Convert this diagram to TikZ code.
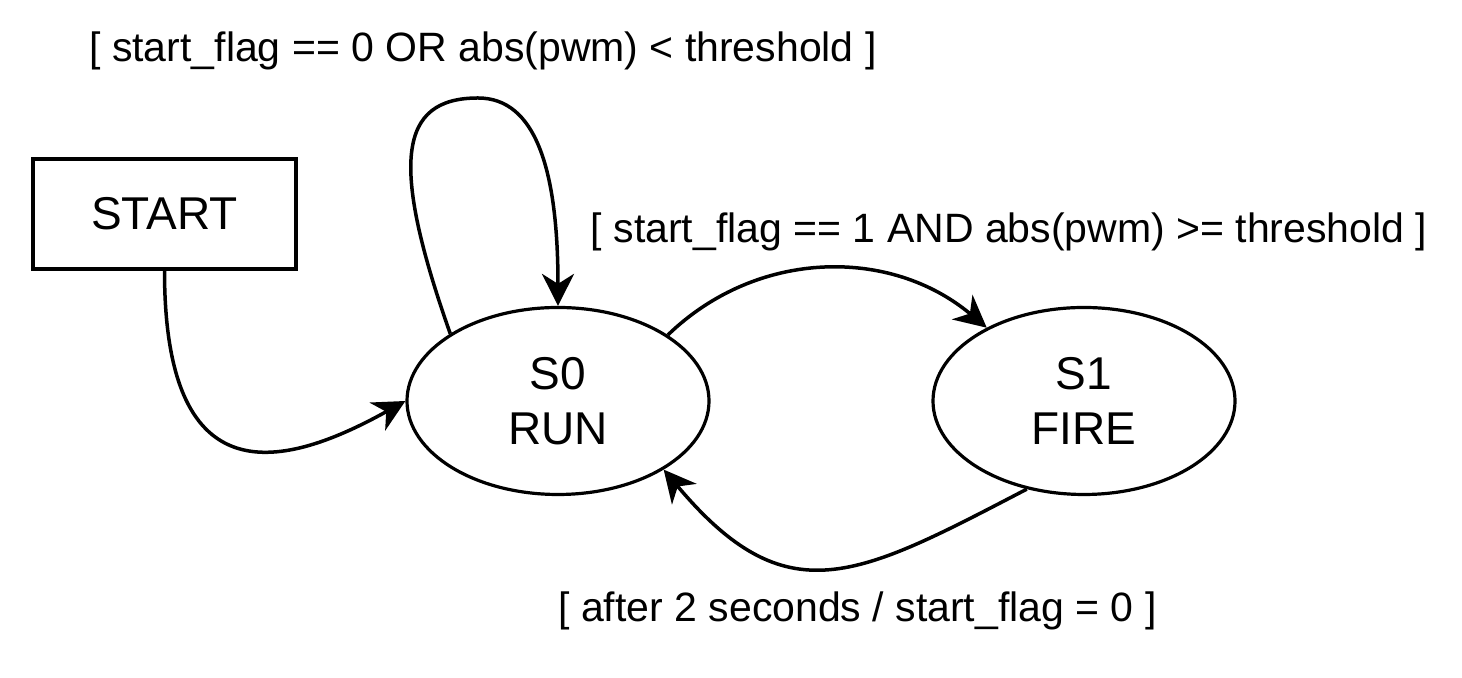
\documentclass[tikz,border=0pt]{standalone}
\usepackage{fontspec}
\setmainfont{Liberation Sans}
\usetikzlibrary{shapes.geometric, arrows.meta, positioning}

\begin{document}
\begin{tikzpicture}[x=0.5pt, y=0.5pt,
    boxnode/.style={draw, rectangle, line width=1.6pt, minimum width=131.5pt, minimum height=55pt, inner sep=0pt, font=\fontsize{23}{27.5}\selectfont},
    statenode/.style={draw, ellipse, line width=1.6pt, minimum width=151pt, minimum height=93.5pt, inner sep=0pt, align=center, font=\fontsize{23}{27.5}\selectfont},
    guard/.style={anchor=base, inner sep=0pt, font=\fontsize{20.5}{24}\selectfont},
    trans/.style={-{Stealth[length=16pt, width=16pt, inset=5pt]}, line width=1.75pt}]
    \useasboundingbox (0,0) rectangle (1462,678);

    % States
    \node[boxnode] (start) at (164.5,464) {START};
    \node[statenode] (s0) at (558,277) {S0\\RUN};
    \node[statenode] (s1) at (1084,277) {S1\\FIRE};
    \coordinate (looptop) at (478,580);

    % Transitions
    \draw[trans] (start.south) .. controls +(0,-220) and +(-131,-73) .. (s0.west);
    \draw[trans] (s0.148) .. controls +(-60,170) and +(-80,0) .. (looptop)
        .. controls +(57,0) and +(0,138) .. (s0.north);
    \draw[trans] (s0.31) to[out=44, in=140] (s1.143);
    \draw[trans] (s1.237) to[out=207.5, in=-50, looseness=1.35] (s0.327);

    % Guards
    \node[guard] (loopguard) at (483,616) {[ start\_flag == 0 OR abs(pwm) < threshold ]};
    \node[guard] (fireguard) at (1009,435) {[ start\_flag == 1 AND abs(pwm) >= threshold ]};
    \node[guard] (runguard) at (857.5,56) {[ after 2 seconds / start\_flag = 0 ]};
\end{tikzpicture}
\end{document}
